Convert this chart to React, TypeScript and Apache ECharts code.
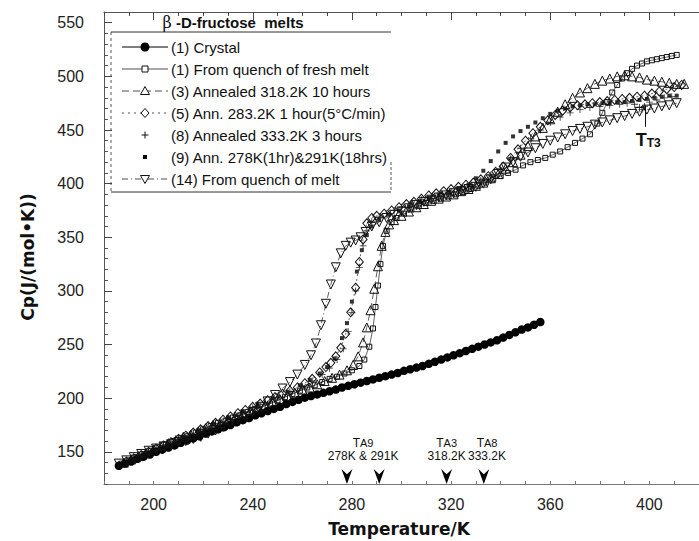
import React, { useEffect, useRef } from 'react';
import * as echarts from 'echarts';

// ---------- axis ticks ----------
const xLabelValues = [200, 240, 280, 320, 360, 400];
const yLabelValues = [150, 200, 250, 300, 350, 400, 450, 500, 550];

// ---------- series data: [Temperature K, Cp J/(mol K)] ----------
const crystal: [number, number][] = [
  [186, 137], [188.5, 139], [191, 141], [193.5, 143.5], [196, 145.5], [198.5, 147.5], [201, 150], [203.5, 152],
  [206, 154], [208.5, 156], [211, 158.5], [213.5, 160.5], [216, 162.5], [218.5, 164.5], [221, 167], [223.5, 169],
  [226, 171], [228.5, 173], [231, 175], [233.5, 177.5], [236, 179.5], [238.5, 181.5], [241, 184], [243.5, 186],
  [246, 188], [248.5, 190], [251, 192], [253.5, 194.5], [256, 196.5], [258.5, 198.5], [261, 200.5], [263.5, 202],
  [266, 203.5], [268.5, 205], [271, 206.5], [273.5, 208], [276, 210], [278.5, 211.5], [281, 213], [283.5, 214.5],
  [286, 216], [288.5, 217.5], [291, 219], [293.5, 220.5], [296, 222], [298.5, 223.5], [301, 225.5], [303.5, 227],
  [306, 228.5], [308.5, 230], [311, 232], [313.5, 234], [316, 236], [318.5, 238], [321, 240], [323.5, 242],
  [326, 244], [328.5, 246], [331, 248], [333.5, 250], [336, 252], [338.5, 254], [341, 256.5], [343.5, 259],
  [346, 261.5], [348.5, 264], [351, 266], [353.5, 268.5], [356, 271],
];

const freshMelt: [number, number][] = [
  [187, 139], [190, 142], [193, 145], [196, 148], [199, 151], [202, 154], [205, 157], [208, 160], [211, 163],
  [214, 165], [217, 168], [220, 171], [223, 174], [226, 177], [229, 179], [232, 182], [235, 184], [238, 187],
  [241, 190], [244, 192], [247, 195], [250, 198], [253, 201], [256, 204], [259, 207], [262, 210], [265, 212],
  [268, 215], [271, 218], [274, 220], [277, 223], [280, 226], [283, 230], [285, 236], [287, 248], [288.5, 265],
  [289.5, 285], [290.5, 305], [291.5, 325], [292.5, 342], [294, 356], [296, 364], [298, 368], [301, 372],
  [304, 376], [307, 379], [310, 382], [313, 384], [316, 386], [319, 388], [322, 390], [325, 392], [328, 395],
  [331, 398], [334, 401], [337, 404], [340, 407], [343, 410], [346, 413], [349, 417], [352, 420], [355, 422],
  [358, 424], [361, 427], [364, 430], [367, 434], [370, 438], [373, 442], [376, 446], [379, 456], [381, 466],
  [383, 476], [385, 485], [387, 492], [389, 498], [391, 503], [393, 507], [395, 510], [397, 512], [399, 514],
  [401, 515], [403, 516], [405, 517], [407, 518], [409, 519], [411, 520],
];

const ann318: [number, number][] = [
  [188, 140], [191, 143], [194, 146], [197, 149], [200, 152], [203, 155], [206, 158], [209, 161], [212, 164],
  [215, 166], [218, 169], [221, 172], [224, 175], [227, 177], [230, 180], [233, 183], [236, 185], [239, 188],
  [242, 191], [245, 193], [248, 196], [251, 199], [254, 202], [257, 205], [260, 208], [263, 210], [266, 213],
  [269, 216], [272, 219], [275, 222], [278, 226], [280.5, 231], [282.5, 239], [284.5, 252], [286, 266],
  [287.5, 282], [289, 302], [290.5, 323], [292, 342], [293.5, 355], [295, 362], [297, 366], [300, 370],
  [303, 374], [306, 378], [309, 381], [312, 384], [315, 386], [318, 388], [321, 390], [324, 393], [327, 395],
  [330, 398], [333, 401], [336, 405], [339, 409], [342, 414], [345, 420], [348, 427], [351, 435], [354, 444],
  [357, 452], [360, 460], [363, 467], [366, 474], [369, 480], [372, 485], [375, 489], [378, 493], [381, 496],
  [384, 498], [387, 500], [390, 501], [393, 500], [396, 499], [399, 497], [402, 496], [405, 495], [408, 494],
  [411, 493], [414, 493],
];

const ann283: [number, number][] = [
  [189, 141], [192, 144], [195, 147], [198, 150], [201, 153], [204, 156], [207, 159], [210, 162], [213, 165],
  [216, 168], [219, 171], [222, 174], [225, 177], [228, 180], [231, 183], [234, 186], [237, 189], [240, 192],
  [243, 195], [246, 198], [249, 201], [252, 204], [255, 207], [258, 210], [261, 214], [264, 218], [267, 224],
  [269.5, 229], [271.5, 233], [273.5, 239], [275.5, 247], [277.5, 260], [279.5, 280], [281.5, 303], [283, 327],
  [284.5, 348], [286, 363], [288, 368], [290, 370], [293, 372], [296, 375], [299, 378], [302, 381], [305, 383],
  [308, 386], [311, 389], [314, 391], [317, 393], [320, 395], [323, 397], [326, 399], [329, 401], [332, 404],
  [335, 407], [338, 411], [341, 416], [344, 424], [347, 432], [350, 440], [353, 447], [356, 453], [359, 459],
  [362, 464], [365, 468], [368, 471], [371, 473], [374, 474], [377, 475], [380, 476], [383, 477], [386, 478],
  [389, 479], [392, 480], [395, 481], [398, 482], [401, 484], [404, 486], [407, 488], [410, 490], [413, 492],
];

const ann333: [number, number][] = [
  [200, 151], [205, 156], [210, 161], [215, 166], [220, 171], [225, 176], [230, 181], [235, 186], [240, 191],
  [245, 196], [250, 201], [255, 206], [260, 211], [264, 216], [268, 222], [271, 228], [274, 236], [276.5, 246],
  [278.5, 262], [280, 280], [281.5, 300], [283, 322], [284.5, 342], [286, 356], [288, 364], [291, 369],
  [294, 372], [297, 375], [300, 378], [304, 382], [308, 385], [312, 388], [316, 391], [320, 393], [324, 396],
  [328, 399], [332, 403], [336, 408], [340, 414], [344, 423], [348, 433], [352, 442], [356, 450], [360, 457],
  [364, 462], [368, 466], [372, 469], [376, 471], [380, 472], [384, 473], [388, 474], [391, 475], [394, 474],
  [396, 471], [397, 469], [398, 472], [400, 476], [403, 478], [406, 480], [409, 481],
];

const ann278and291: [number, number][] = [
  [200, 152], [206, 158], [212, 164], [218, 170], [224, 176], [230, 182], [236, 188], [242, 194], [248, 200],
  [254, 206], [259, 212], [263, 217], [267, 223], [270, 229], [273, 237], [276, 256], [278, 270], [280, 290],
  [282, 318], [284, 338], [286, 352], [288, 360], [291, 366], [295, 371], [299, 375], [303, 379], [307, 383],
  [311, 386], [315, 389], [319, 392], [323, 395], [327, 399], [330, 405], [333, 412], [336, 421], [339, 430],
  [342, 438], [345, 444], [348, 449], [351, 453], [354, 457], [357, 461], [360, 465], [363, 468], [366, 470],
  [369, 472], [372, 473], [375, 474], [378, 474], [381, 475], [384, 475], [387, 476], [390, 476], [393, 477],
  [396, 478], [399, 479], [402, 480], [405, 481], [408, 482], [411, 482],
];

const quenchMelt: [number, number][] = [
  [186, 139], [189, 142], [192, 145], [195, 148], [198, 151], [201, 153], [204, 155], [207, 157], [210, 159],
  [213, 160], [216, 162], [219, 164], [222, 167], [225, 170], [228, 173], [231, 176], [234, 180], [237, 183],
  [240, 187], [243, 192], [246, 197], [249, 203], [252, 209], [255, 215], [258, 222], [261, 231], [263.5, 240],
  [265.5, 251], [267.5, 268], [269.5, 288], [271.5, 306], [273.5, 322], [275.5, 335], [277.5, 342], [279.5, 345],
  [281.5, 347], [283.5, 350], [285.5, 355], [288, 360], [291, 364], [294, 368], [297, 371], [300, 374],
  [303, 377], [306, 380], [309, 383], [312, 385], [315, 387], [318, 389], [321, 391], [324, 393], [327, 395],
  [330, 397], [333, 400], [336, 404], [339, 409], [342, 415], [345, 420], [348, 425], [351, 429], [354, 433],
  [357, 437], [360, 440], [363, 443], [366, 446], [369, 449], [372, 451], [375, 453], [378, 455], [381, 457],
  [384, 459], [387, 461], [390, 463], [393, 465], [396, 467], [399, 469], [402, 470], [405, 472], [408, 473],
  [411, 475],
];

// annotations
const annealTemps = [278, 291, 318.2, 333.2];
const annealLabels: { t: number; sub: string; text: string }[] = [
  { t: 284.5, sub: 'A9', text: '278K & 291K' },
  { t: 318.2, sub: 'A3', text: '318.2K' },
  { t: 334.5, sub: 'A8', text: '333.2K' },
];
const legendTitle = ' -D-fructose  melts';
const legendLabels = [
  '(1) Crystal',
  '(1) From quench of fresh melt',
  '(3) Annealed 318.2K 10 hours',
  '(5) Ann. 283.2K 1 hour(5°C/min)',
  '(8) Annealed 333.2K 3 hours',
  '(9) Ann. 278K(1hr)&291K(18hrs)',
  '(14) From quench of melt',
];

const FONT = '"Liberation Sans", Arial, Helvetica, sans-serif';
const BOLD_FONT = '"DejaVu Sans", "Liberation Sans", Arial, sans-serif';
const INK = '#111';
const LINE = '#3a3a3a';
const ARROW = 'path://M0,0 L5,5 L10,0 L5,14 Z';
const PLUS = 'path://M4.4,0 H5.6 V4.4 H10 V5.6 H5.6 V10 H4.4 V5.6 H0 V4.4 H4.4 Z';
const hollow = { color: 'rgba(255,255,255,0)', borderColor: INK, borderWidth: 1 };

function buildLegend() {
  const els: any[] = [];
  const x0 = 122;
  const x1 = 168;
  const mx = 145;
  const rowY = (i: number) => 47 + i * 22;
  const dashes: (number[] | null | 'none')[] = [null, null, [7, 4], [2, 4], 'none', 'none', [6, 3, 1, 3]];
  dashes.forEach((d, i) => {
    if (d !== 'none') {
      els.push({
        type: 'line',
        shape: { x1: x0, y1: rowY(i), x2: x1, y2: rowY(i) },
        style: { stroke: i === 0 ? '#000' : LINE, lineWidth: i === 0 ? 1 : 0.9, lineDash: d || undefined },
      });
    }
  });
  const y = rowY;
  els.push({ type: 'circle', shape: { cx: mx, cy: y(0), r: 4.5 }, style: { fill: '#000' } });
  els.push({ type: 'rect', shape: { x: mx - 3, y: y(1) - 3, width: 6, height: 6 }, style: { fill: '#fff', stroke: INK, lineWidth: 1 } });
  els.push({ type: 'polygon', shape: { points: [[mx, y(2) - 4.5], [mx + 4.5, y(2) + 3.5], [mx - 4.5, y(2) + 3.5]] }, style: { fill: '#fff', stroke: INK, lineWidth: 1 } });
  els.push({ type: 'polygon', shape: { points: [[mx, y(3) - 4.5], [mx + 4, y(3)], [mx, y(3) + 4.5], [mx - 4, y(3)]] }, style: { fill: '#fff', stroke: INK, lineWidth: 1 } });
  els.push({ type: 'line', shape: { x1: mx - 3.5, y1: y(4), x2: mx + 3.5, y2: y(4) }, style: { stroke: INK, lineWidth: 1 } });
  els.push({ type: 'line', shape: { x1: mx, y1: y(4) - 3.5, x2: mx, y2: y(4) + 3.5 }, style: { stroke: INK, lineWidth: 1 } });
  els.push({ type: 'rect', shape: { x: mx - 2, y: y(5) - 2, width: 4, height: 4 }, style: { fill: '#000' } });
  els.push({ type: 'polygon', shape: { points: [[mx - 4.5, y(6) - 3.5], [mx + 4.5, y(6) - 3.5], [mx, y(6) + 4.5]] }, style: { fill: '#fff', stroke: INK, lineWidth: 1 } });
  legendLabels.forEach((t, i) => {
    els.push({
      type: 'text',
      x: 171,
      y: rowY(i),
      style: { text: t, fill: INK, fontSize: 15, fontFamily: FONT, align: 'left', verticalAlign: 'middle' },
    });
  });
  // legend frame
  const fr = { stroke: '#333', lineWidth: 1 };
  els.push({ type: 'line', shape: { x1: 111, y1: 32, x2: 391, y2: 32 }, style: fr });
  els.push({ type: 'line', shape: { x1: 111, y1: 192, x2: 391, y2: 192 }, style: fr });
  els.push({ type: 'line', shape: { x1: 111, y1: 32, x2: 111, y2: 192 }, style: { stroke: '#555', lineWidth: 1, lineDash: [3, 3] } });
  els.push({ type: 'line', shape: { x1: 391, y1: 162, x2: 391, y2: 192 }, style: { stroke: '#555', lineWidth: 1, lineDash: [3, 2] } });
  // title
  els.push({
    type: 'text',
    x: 233,
    y: 22,
    style: {
      text: '{g|β}{t|' + legendTitle + '}',
      align: 'center',
      verticalAlign: 'middle',
      rich: {
        g: { fontSize: 16, fontFamily: '"DejaVu Serif", serif', fill: INK },
        t: { fontSize: 15, fontWeight: 'bold', fontFamily: FONT, fill: INK },
      },
    },
  });
  // axis names
  els.push({
    type: 'text',
    x: 28,
    y: 257,
    rotation: Math.PI / 2,
    style: { text: 'Cp(J/(mol•K))', fill: INK, fontSize: 17, fontWeight: 'bold', fontFamily: BOLD_FONT, align: 'center', verticalAlign: 'middle' },
  });
  els.push({
    type: 'text',
    x: 399,
    y: 529,
    style: { text: 'Temperature/K', fill: INK, fontSize: 17, fontWeight: 'bold', fontFamily: BOLD_FONT, align: 'center', verticalAlign: 'middle' },
  });
  return els;
}

const textMark = (coord: [number, number], formatter: string, rich?: any) => ({
  coord,
  symbol: 'circle',
  symbolSize: 1,
  itemStyle: { color: 'rgba(0,0,0,0)' },
  label: { show: true, position: 'inside', formatter, color: INK, fontSize: 12, fontFamily: FONT, rich },
});

const annealRich = {
  a: { fontSize: 12, fontFamily: FONT, color: INK, lineHeight: 13 },
  b: { fontSize: 11, fontFamily: FONT, color: INK, lineHeight: 13 },
  c: { fontSize: 12, fontFamily: FONT, color: INK, lineHeight: 13, align: 'center' },
};

function buildOption(): any {
  const X_MIN = 180;
  const X_MAX = 420;
  const Y_MIN = 120;
  const Y_MAX = 560;
  const axisLineStyle = { color: '#555', width: 1 };
  return {
    animation: false,
    backgroundColor: '#fff',
    grid: { left: 104, top: 12, width: 601, height: 472 },
    xAxis: [
      {
        type: 'value', position: 'bottom', min: X_MIN, max: X_MAX, interval: 10,
        axisLine: { show: true, lineStyle: { color: '#777', width: 1 } },
        axisTick: { show: true, inside: true, length: 3, lineStyle: { color: '#777' } },
        axisLabel: {
          show: true, margin: 12, color: '#222', fontSize: 16, fontFamily: FONT,
          customValues: xLabelValues,
          formatter: (v: number) => (xLabelValues.includes(v) ? String(v) : ''),
        },
        splitLine: { show: false },
      },
      {
        type: 'value', position: 'top', min: X_MIN, max: X_MAX, interval: 10,
        axisLine: { show: true, lineStyle: axisLineStyle },
        axisTick: { show: true, inside: true, length: 4, lineStyle: { color: '#444' } },
        axisLabel: { show: false },
        splitLine: { show: false },
      },
      {
        type: 'value', position: 'top', min: X_MIN, max: X_MAX, interval: 10,
        axisLine: { show: false },
        axisTick: { show: true, inside: true, length: 8, customValues: xLabelValues, lineStyle: { color: '#444' } },
        axisLabel: { show: false },
        splitLine: { show: false },
      },
    ],
    yAxis: [
      {
        type: 'value', position: 'left', min: Y_MIN, max: Y_MAX, interval: 10,
        axisLine: { show: true, lineStyle: axisLineStyle },
        axisTick: { show: true, inside: true, length: 4, lineStyle: { color: '#555' } },
        axisLabel: {
          show: true, margin: 20, color: '#222', fontSize: 16, fontFamily: FONT,
          customValues: yLabelValues,
          formatter: (v: number) => (yLabelValues.includes(v) ? String(v) : ''),
        },
        splitLine: { show: false },
      },
      {
        type: 'value', position: 'left', min: Y_MIN, max: Y_MAX, interval: 10,
        axisLine: { show: false },
        axisTick: { show: true, inside: true, length: 8, customValues: yLabelValues, lineStyle: { color: '#444' } },
        axisLabel: { show: false },
        splitLine: { show: false },
      },
    ],
    graphic: buildLegend(),
    series: [
      {
        name: legendLabels[0], type: 'line', data: crystal, symbol: 'circle', symbolSize: 8.5,
        itemStyle: { color: '#000' }, lineStyle: { color: '#000', width: 1 }, z: 3,
        markPoint: {
          silent: true,
          data: [
            ...annealTemps.map((t) => ({
              coord: [t, Y_MIN],
              symbol: ARROW,
              symbolSize: [11, 15],
              symbolOffset: [0, '-50%'],
              itemStyle: { color: '#000' },
              label: { show: false },
            })),
            ...annealLabels.map((a) =>
              textMark([a.t, 152.5], '{a|T}{b|' + a.sub + '}\n{c|' + a.text + '}', annealRich)
            ),
            textMark([399.5, 442], '{a|T}{b|T3}', {
              a: { fontSize: 18, fontWeight: 'bold', fontFamily: FONT, color: INK, lineHeight: 20, verticalAlign: 'bottom' },
              b: { fontSize: 12, fontWeight: 'bold', fontFamily: FONT, color: INK, lineHeight: 8, verticalAlign: 'bottom' },
            }),
          ],
        },
        markLine: {
          silent: true,
          symbol: ['none', 'none'],
          label: { show: false },
          lineStyle: { color: INK, width: 1, type: 'solid' },
          data: [[{ coord: [398.3, 453] }, { coord: [398.3, 473] }]],
        },
      },
      {
        name: legendLabels[1], type: 'line', data: freshMelt, symbol: 'rect', symbolSize: 5,
        itemStyle: hollow, lineStyle: { color: LINE, width: 0.8 },
      },
      {
        name: legendLabels[2], type: 'line', data: ann318, symbol: 'triangle', symbolSize: 9,
        itemStyle: hollow, lineStyle: { color: LINE, width: 0.8, type: [7, 4] },
      },
      {
        name: legendLabels[3], type: 'line', data: ann283, symbol: 'diamond', symbolSize: [8, 9],
        itemStyle: hollow, lineStyle: { color: LINE, width: 0.8, type: [2, 3] },
      },
      {
        name: legendLabels[4], type: 'scatter', data: ann333, symbol: PLUS, symbolSize: 7,
        itemStyle: { color: '#000' },
      },
      {
        name: legendLabels[5], type: 'scatter', data: ann278and291, symbol: 'rect', symbolSize: 4,
        itemStyle: { color: '#000' },
      },
      {
        name: legendLabels[6], type: 'line', data: quenchMelt, symbol: 'triangle', symbolRotate: 180, symbolSize: 9,
        itemStyle: hollow, lineStyle: { color: LINE, width: 0.8, type: [6, 3, 1, 3] },
      },
    ],
  };
}

export default function App() {
  const ref = useRef<HTMLDivElement>(null);
  useEffect(() => {
    document.body.style.margin = '0';
    const chart = echarts.init(ref.current!, null, { renderer: 'svg' });
    chart.setOption(buildOption());
    return () => chart.dispose();
  }, []);
  return <div ref={ref} style={{ position: 'absolute', left: 0, top: 0, width: 699, height: 541, background: '#fff' }} />;
}
